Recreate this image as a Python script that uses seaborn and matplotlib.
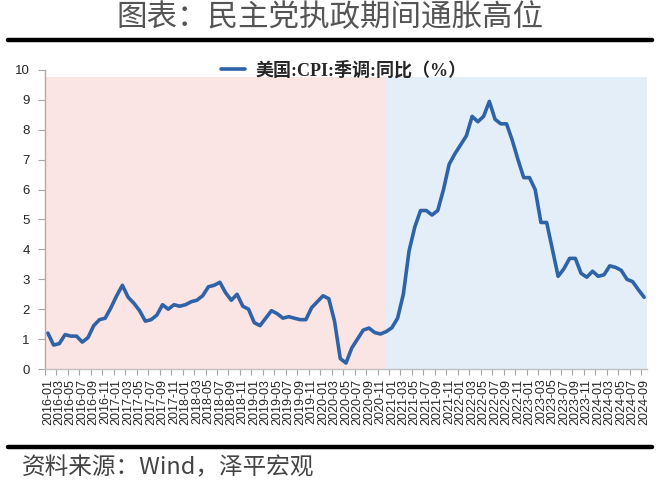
import numpy as np
import pandas as pd
import seaborn as sns
import matplotlib.pyplot as plt
from matplotlib.lines import Line2D

# months 2016-01 .. 2024-09
months = [f"{y}-{m:02d}" for y in range(2016, 2025) for m in range(1, 13)][:105]

# US CPI, seasonally adjusted, YoY (%)
cpi_2016 = [1.2, 0.8, 0.85, 1.15, 1.1, 1.1, 0.9, 1.05, 1.45, 1.65, 1.7, 2.05]
cpi_2017 = [2.45, 2.8, 2.4, 2.2, 1.95, 1.6, 1.65, 1.8, 2.15, 2.0, 2.15, 2.1]
cpi_2018 = [2.15, 2.25, 2.3, 2.45, 2.75, 2.8, 2.9, 2.55, 2.3, 2.5, 2.1, 2.0]
cpi_2019 = [1.55, 1.45, 1.7, 1.95, 1.85, 1.7, 1.75, 1.7, 1.65, 1.65, 2.05, 2.25]
cpi_2020 = [2.45, 2.35, 1.6, 0.35, 0.2, 0.7, 1.0, 1.3, 1.37, 1.22, 1.17, 1.25]
cpi_2021 = [1.38, 1.7, 2.5, 3.95, 4.75, 5.3, 5.3, 5.15, 5.3, 6.0, 6.85, 7.2]
cpi_2022 = [7.5, 7.8, 8.45, 8.27, 8.45, 8.95, 8.35, 8.2, 8.2, 7.65, 7.0, 6.4]
cpi_2023 = [6.4, 6.0, 4.9, 4.9, 4.0, 3.1, 3.35, 3.7, 3.7, 3.2, 3.07, 3.27]
cpi_2024 = [3.1, 3.15, 3.45, 3.4, 3.3, 3.0, 2.92, 2.65, 2.4]
cpi = cpi_2016 + cpi_2017 + cpi_2018 + cpi_2019 + cpi_2020 + cpi_2021 + cpi_2022 + cpi_2023 + cpi_2024

# party periods (shaded background)
rep_end = "2020-12"
shade_height = 9.75

title = "图表：民主党执政期间通胀高位"
series_name = "美国:CPI:季调:同比（%）"
source = "资料来源：Wind，泽平宏观"

df = pd.DataFrame({"idx": np.arange(len(cpi)), "month": months, "cpi": cpi})

sns.set_style("ticks")
plt.rcParams['font.family'] = ['Liberation Sans', 'Noto Sans CJK SC', 'DejaVu Sans']

fig = plt.figure(figsize=(6.6, 4.87), dpi=100)
ax = fig.add_axes([45 / 660, 1 - 369 / 487, 602 / 660, 299 / 487])

# background shading
b = months.index(rep_end)
ax.axvspan(-0.5, b, ymin=0, ymax=shade_height / 10, color='#FBE4E4', lw=0, zorder=0)
ax.axvspan(b, len(months) - 0.5, ymin=0, ymax=shade_height / 10, color='#E4EEF8', lw=0, zorder=0)

line_color = '#2E63A8'
sns.lineplot(data=df, x="idx", y="cpi", ax=ax, color=line_color, lw=2.6,
             label=series_name, solid_joinstyle='round', solid_capstyle='round')

ax.set_xlim(-0.5, len(months) - 0.5)
ax.set_ylim(0, 10)
ax.set_yticks(range(0, 11))
ax.set_xlabel("")
ax.set_ylabel("")

label_idx = list(range(0, len(months), 2))
ax.set_xticks(label_idx)
ax.set_xticklabels([months[i] for i in label_idx], rotation=90, fontsize=9)
ax.set_xticks(np.arange(-0.5, len(months), 2), minor=True)
ax.tick_params(axis='x', which='major', length=0, pad=7)
ax.tick_params(axis='x', which='minor', length=4, color='#A6A6A6', width=0.8)
ax.tick_params(axis='y', length=5, color='#A6A6A6', width=0.8, labelsize=9.5, pad=6)

for s in ['top', 'right']:
    ax.spines[s].set_visible(False)
ax.spines['left'].set_color('#B8A6A6')
ax.spines['bottom'].set_color('#BFBFBF')
ax.spines['left'].set_linewidth(1)
ax.spines['bottom'].set_linewidth(1)

leg = ax.legend(loc='center', bbox_to_anchor=(0.497, 1.0), frameon=False,
                handlelength=1.3, handletextpad=0.6,
                prop={'family': ['Liberation Serif', 'Noto Sans CJK SC'], 'weight': 'bold', 'size': 13})

# title, rules, source
fig.text(0.5, 1 - 18 / 487, title, ha='center', va='center', fontsize=22,
         color='#555555', weight='light', family=['Noto Sans CJK SC'])
fig.add_artist(Line2D([8 / 660, 652 / 660], [1 - 40 / 487] * 2, color='black', lw=3.2))
fig.add_artist(Line2D([8 / 660, 652 / 660], [1 - 447 / 487] * 2, color='black', lw=3.2))
fig.text(22 / 660, 1 - 468 / 487, source, ha='left', va='center', fontsize=17,
         color='#444444', style='italic', weight='light', family=['Noto Sans CJK SC', 'DejaVu Sans'])

fig.savefig('out.png', dpi=100)
